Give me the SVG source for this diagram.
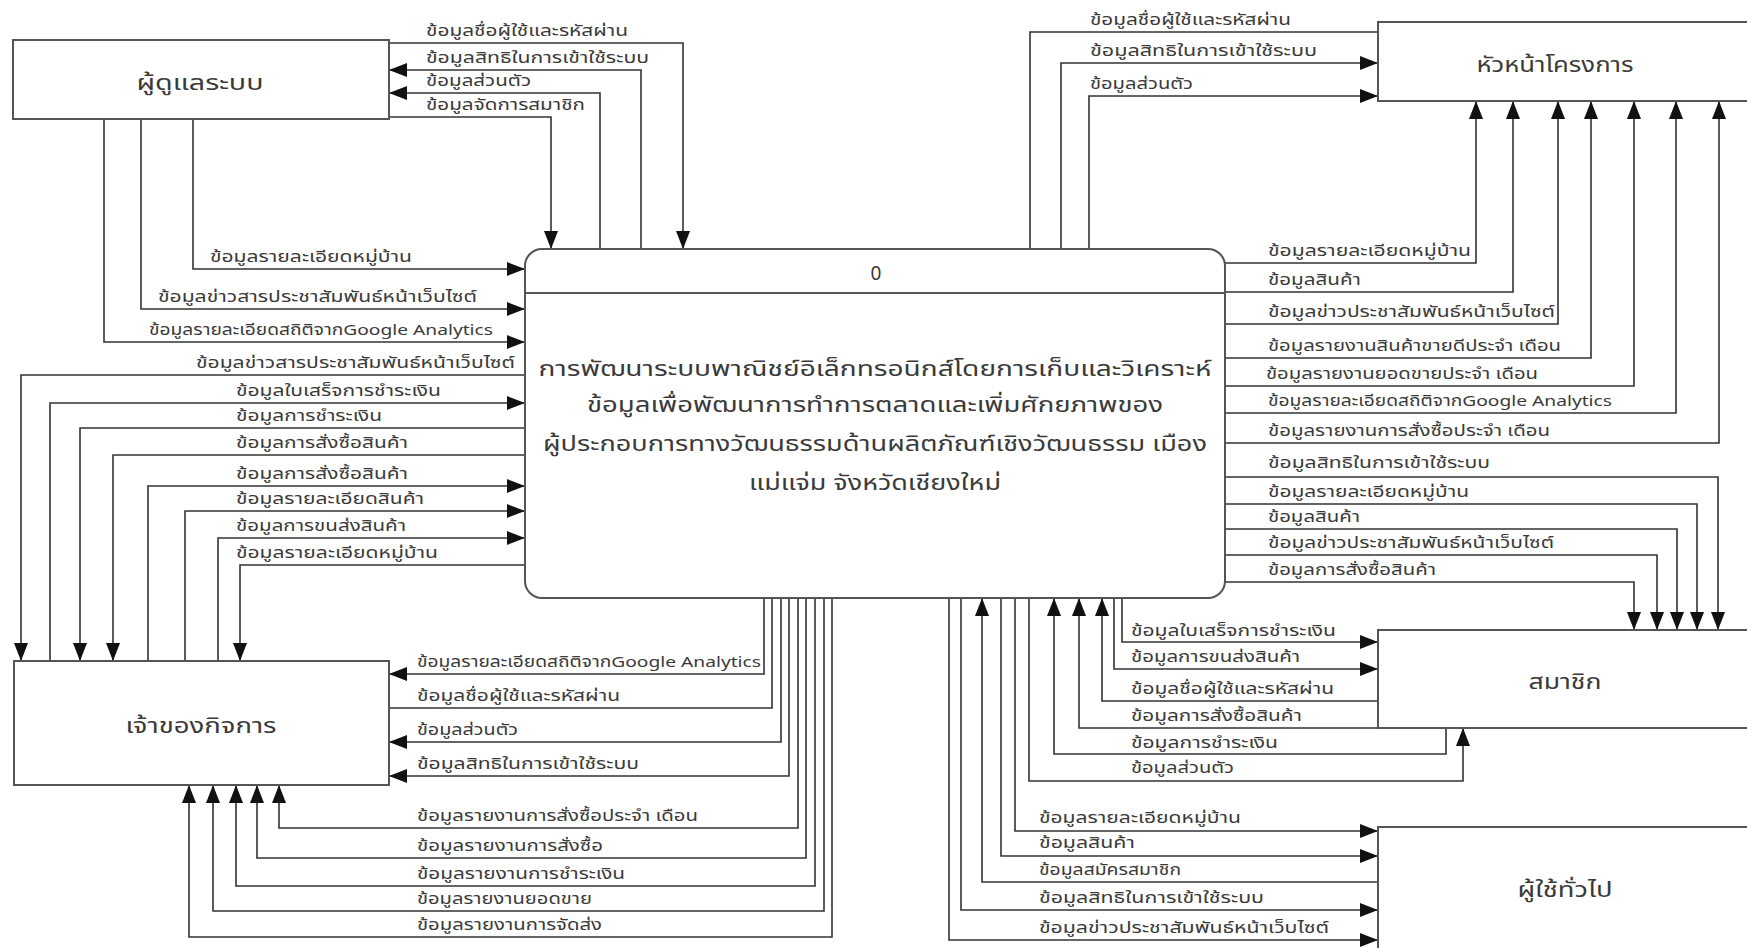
<svg xmlns="http://www.w3.org/2000/svg" width="1747" height="948" viewBox="0 0 1747 948">
<style>
.box{fill:#fff;stroke:#555;stroke-width:2}
.c{fill:none;stroke:#333;stroke-width:1.6}
.a{marker-end:url(#ah)}
text{font-family:"Noto Sans Thai","Noto Sans","Liberation Sans",sans-serif;fill:#3a3a3a}
.l{font-size:15px}
.n{font-size:21px;text-anchor:middle}
.t{font-size:21px;text-anchor:middle}
</style>
<defs>
<marker id="ah" markerWidth="18" markerHeight="14" refX="18" refY="7" orient="auto" markerUnits="userSpaceOnUse"><path d="M0,0 L18,7 L0,14 z" fill="#111"/></marker>
</defs>
<rect width="1747" height="948" fill="#fff"/>

<g id="connectors">
<path class="c a" d="M389,43 H683 V249"/>
<path class="c a" d="M641,249 V70 H389"/>
<path class="c a" d="M600,249 V93 H389"/>
<path class="c a" d="M389,117 H551 V249"/>
<path class="c a" d="M193,119 V269 H525"/>
<path class="c a" d="M141,119 V309 H525"/>
<path class="c a" d="M104,119 V342 H525"/>
<path class="c a" d="M525,375 H21 V661"/>
<path class="c a" d="M50,661 V403 H525"/>
<path class="c a" d="M525,428 H80 V661"/>
<path class="c a" d="M525,455 H113 V661"/>
<path class="c a" d="M148,661 V486 H525"/>
<path class="c a" d="M185,661 V511 H525"/>
<path class="c a" d="M218,661 V538 H525"/>
<path class="c a" d="M525,565 H240 V661"/>
<path class="c a" d="M764,598 V674 H389"/>
<path class="c" d="M772,598 V708 H389"/>
<path class="c a" d="M781,598 V742 H389"/>
<path class="c a" d="M789,598 V776 H389"/>
<path class="c a" d="M798,598 V828 H279 V785"/>
<path class="c a" d="M806,598 V858 H257 V785"/>
<path class="c a" d="M815,598 V886 H236 V785"/>
<path class="c a" d="M824,598 V911 H213 V785"/>
<path class="c a" d="M832,598 V937 H189 V785"/>
<path class="c" d="M1030,249 V32 H1378"/>
<path class="c a" d="M1061,249 V63 H1378"/>
<path class="c a" d="M1089,249 V96 H1378"/>
<path class="c a" d="M1225,263 H1476 V101"/>
<path class="c a" d="M1225,292 H1513 V101"/>
<path class="c a" d="M1225,324 H1558 V101"/>
<path class="c a" d="M1225,358 H1591 V101"/>
<path class="c a" d="M1225,386 H1634 V101"/>
<path class="c a" d="M1225,413 H1676 V101"/>
<path class="c a" d="M1225,443 H1719 V101"/>
<path class="c a" d="M1225,477 H1718 V630"/>
<path class="c a" d="M1225,504 H1697 V630"/>
<path class="c a" d="M1225,529 H1677 V630"/>
<path class="c a" d="M1225,555 H1657 V630"/>
<path class="c a" d="M1225,582 H1634 V630"/>
<path class="c a" d="M1122,598 V642 H1378"/>
<path class="c a" d="M1114,598 V669 H1378"/>
<path class="c a" d="M1378,701 H1102 V598"/>
<path class="c a" d="M1378,728 H1079 V598"/>
<path class="c a" d="M1446,728 V754 H1054 V598"/>
<path class="c a" d="M1029,598 V781 H1463 V728"/>
<path class="c a" d="M1015,598 V831 H1378"/>
<path class="c a" d="M1001,598 V856 H1378"/>
<path class="c a" d="M1378,882 H982 V598"/>
<path class="c a" d="M961,598 V910 H1378"/>
<path class="c a" d="M949,598 V940 H1378"/>
</g>

<g id="labels">
<text class="l" x="426" y="36" textLength="202" lengthAdjust="spacingAndGlyphs">ข้อมูลชื่อผู้ใช้และรหัสผ่าน</text>
<text class="l" x="426" y="63" textLength="223" lengthAdjust="spacingAndGlyphs">ข้อมูลสิทธิในการเข้าใช้ระบบ</text>
<text class="l" x="426" y="86" textLength="105" lengthAdjust="spacingAndGlyphs">ข้อมูลส่วนตัว</text>
<text class="l" x="426" y="110" textLength="159" lengthAdjust="spacingAndGlyphs">ข้อมูลจัดการสมาชิก</text>

<text class="l" x="210" y="262" textLength="202" lengthAdjust="spacingAndGlyphs">ข้อมูลรายละเอียดหมู่บ้าน</text>
<text class="l" x="158" y="302" textLength="319" lengthAdjust="spacingAndGlyphs">ข้อมูลข่าวสารประชาสัมพันธ์หน้าเว็บไซต์</text>
<text class="l" x="149" y="335" textLength="344" lengthAdjust="spacingAndGlyphs">ข้อมูลรายละเอียดสถิติจากGoogle Analytics</text>
<text class="l" x="196" y="368" textLength="319" lengthAdjust="spacingAndGlyphs">ข้อมูลข่าวสารประชาสัมพันธ์หน้าเว็บไซต์</text>
<text class="l" x="236" y="396" textLength="205" lengthAdjust="spacingAndGlyphs">ข้อมูลใบเสร็จการชำระเงิน</text>
<text class="l" x="236" y="421" textLength="146" lengthAdjust="spacingAndGlyphs">ข้อมูลการชำระเงิน</text>
<text class="l" x="236" y="448" textLength="172" lengthAdjust="spacingAndGlyphs">ข้อมูลการสั่งซื้อสินค้า</text>
<text class="l" x="236" y="479" textLength="172" lengthAdjust="spacingAndGlyphs">ข้อมูลการสั่งซื้อสินค้า</text>
<text class="l" x="236" y="504" textLength="188" lengthAdjust="spacingAndGlyphs">ข้อมูลรายละเอียดสินค้า</text>
<text class="l" x="236" y="531" textLength="170" lengthAdjust="spacingAndGlyphs">ข้อมูลการขนส่งสินค้า</text>
<text class="l" x="236" y="558" textLength="202" lengthAdjust="spacingAndGlyphs">ข้อมูลรายละเอียดหมู่บ้าน</text>

<text class="l" x="417" y="667" textLength="344" lengthAdjust="spacingAndGlyphs">ข้อมูลรายละเอียดสถิติจากGoogle Analytics</text>
<text class="l" x="417" y="701" textLength="203" lengthAdjust="spacingAndGlyphs">ข้อมูลชื่อผู้ใช้และรหัสผ่าน</text>
<text class="l" x="417" y="735" textLength="101" lengthAdjust="spacingAndGlyphs">ข้อมูลส่วนตัว</text>
<text class="l" x="417" y="769" textLength="222" lengthAdjust="spacingAndGlyphs">ข้อมูลสิทธิในการเข้าใช้ระบบ</text>
<text class="l" x="417" y="821" textLength="281" lengthAdjust="spacingAndGlyphs">ข้อมูลรายงานการสั่งซื้อประจำ เดือน</text>
<text class="l" x="417" y="851" textLength="186" lengthAdjust="spacingAndGlyphs">ข้อมูลรายงานการสั่งซื้อ</text>
<text class="l" x="417" y="879" textLength="208" lengthAdjust="spacingAndGlyphs">ข้อมูลรายงานการชำระเงิน</text>
<text class="l" x="417" y="904" textLength="175" lengthAdjust="spacingAndGlyphs">ข้อมูลรายงานยอดขาย</text>
<text class="l" x="417" y="930" textLength="185" lengthAdjust="spacingAndGlyphs">ข้อมูลรายงานการจัดส่ง</text>

<text class="l" x="1090" y="25" textLength="201" lengthAdjust="spacingAndGlyphs">ข้อมูลชื่อผู้ใช้และรหัสผ่าน</text>
<text class="l" x="1090" y="56" textLength="227" lengthAdjust="spacingAndGlyphs">ข้อมูลสิทธิในการเข้าใช้ระบบ</text>
<text class="l" x="1090" y="89" textLength="103" lengthAdjust="spacingAndGlyphs">ข้อมูลส่วนตัว</text>

<text class="l" x="1268" y="256" textLength="203" lengthAdjust="spacingAndGlyphs">ข้อมูลรายละเอียดหมู่บ้าน</text>
<text class="l" x="1268" y="285" textLength="93" lengthAdjust="spacingAndGlyphs">ข้อมูลสินค้า</text>
<text class="l" x="1268" y="317" textLength="287" lengthAdjust="spacingAndGlyphs">ข้อมูลข่าวประชาสัมพันธ์หน้าเว็บไซต์</text>
<text class="l" x="1268" y="351" textLength="293" lengthAdjust="spacingAndGlyphs">ข้อมูลรายงานสินค้าขายดีประจำ เดือน</text>
<text class="l" x="1266" y="379" textLength="272" lengthAdjust="spacingAndGlyphs">ข้อมูลรายงานยอดขายประจำ เดือน</text>
<text class="l" x="1268" y="406" textLength="344" lengthAdjust="spacingAndGlyphs">ข้อมูลรายละเอียดสถิติจากGoogle Analytics</text>
<text class="l" x="1268" y="436" textLength="282" lengthAdjust="spacingAndGlyphs">ข้อมูลรายงานการสั่งซื้อประจำ เดือน</text>
<text class="l" x="1268" y="468" textLength="222" lengthAdjust="spacingAndGlyphs">ข้อมูลสิทธิในการเข้าใช้ระบบ</text>
<text class="l" x="1268" y="497" textLength="201" lengthAdjust="spacingAndGlyphs">ข้อมูลรายละเอียดหมู่บ้าน</text>
<text class="l" x="1268" y="522" textLength="92" lengthAdjust="spacingAndGlyphs">ข้อมูลสินค้า</text>
<text class="l" x="1268" y="548" textLength="286" lengthAdjust="spacingAndGlyphs">ข้อมูลข่าวประชาสัมพันธ์หน้าเว็บไซต์</text>
<text class="l" x="1268" y="575" textLength="168" lengthAdjust="spacingAndGlyphs">ข้อมูลการสั่งซื้อสินค้า</text>

<text class="l" x="1131" y="636" textLength="205" lengthAdjust="spacingAndGlyphs">ข้อมูลใบเสร็จการชำระเงิน</text>
<text class="l" x="1131" y="662" textLength="169" lengthAdjust="spacingAndGlyphs">ข้อมูลการขนส่งสินค้า</text>
<text class="l" x="1131" y="694" textLength="203" lengthAdjust="spacingAndGlyphs">ข้อมูลชื่อผู้ใช้และรหัสผ่าน</text>
<text class="l" x="1131" y="721" textLength="171" lengthAdjust="spacingAndGlyphs">ข้อมูลการสั่งซื้อสินค้า</text>
<text class="l" x="1131" y="748" textLength="147" lengthAdjust="spacingAndGlyphs">ข้อมูลการชำระเงิน</text>
<text class="l" x="1131" y="773" textLength="103" lengthAdjust="spacingAndGlyphs">ข้อมูลส่วนตัว</text>

<text class="l" x="1039" y="823" textLength="202" lengthAdjust="spacingAndGlyphs">ข้อมูลรายละเอียดหมู่บ้าน</text>
<text class="l" x="1039" y="848" textLength="96" lengthAdjust="spacingAndGlyphs">ข้อมูลสินค้า</text>
<text class="l" x="1039" y="875" textLength="142" lengthAdjust="spacingAndGlyphs">ข้อมูลสมัครสมาชิก</text>
<text class="l" x="1039" y="903" textLength="225" lengthAdjust="spacingAndGlyphs">ข้อมูลสิทธิในการเข้าใช้ระบบ</text>
<text class="l" x="1039" y="933" textLength="290" lengthAdjust="spacingAndGlyphs">ข้อมูลข่าวประชาสัมพันธ์หน้าเว็บไซต์</text>
</g>

<g id="admin">
<rect class="box" x="13" y="40" width="376" height="79"/>
<text class="n" x="200" y="90" textLength="127" lengthAdjust="spacingAndGlyphs">ผู้ดูแลระบบ</text>
</g>
<g id="owner">
<rect class="box" x="14" y="661" width="375" height="124"/>
<text class="n" x="201" y="733" textLength="151" lengthAdjust="spacingAndGlyphs">เจ้าของกิจการ</text>
</g>
<g id="head">
<rect class="box" x="1378" y="22" width="390" height="79"/>
<text class="n" x="1555" y="72" textLength="157" lengthAdjust="spacingAndGlyphs">หัวหน้าโครงการ</text>
</g>
<g id="member">
<rect class="box" x="1378" y="630" width="390" height="98"/>
<text class="n" x="1565" y="689" textLength="73" lengthAdjust="spacingAndGlyphs">สมาชิก</text>
</g>
<g id="general">
<rect class="box" x="1378" y="827" width="390" height="140"/>
<text class="n" x="1565" y="897" textLength="95" lengthAdjust="spacingAndGlyphs">ผู้ใช้ทั่วไป</text>
</g>
<g id="process">
<rect class="box" x="525" y="249" width="700" height="349" rx="17" ry="17"/>
<line x1="525" y1="293" x2="1225" y2="293" stroke="#555" stroke-width="2"/>
<text class="t" x="876" y="280" style="font-size:19px">0</text>
<text class="t" x="875" y="376" textLength="673" lengthAdjust="spacingAndGlyphs">การพัฒนาระบบพาณิชย์อิเล็กทรอนิกส์โดยการเก็บและวิเคราะห์</text>
<text class="t" x="875" y="412" textLength="576" lengthAdjust="spacingAndGlyphs">ข้อมูลเพื่อพัฒนาการทำการตลาดและเพิ่มศักยภาพของ</text>
<text class="t" x="875" y="451" textLength="664" lengthAdjust="spacingAndGlyphs">ผู้ประกอบการทางวัฒนธรรมด้านผลิตภัณฑ์เชิงวัฒนธรรม เมือง</text>
<text class="t" x="875" y="490" textLength="252" lengthAdjust="spacingAndGlyphs">แม่แจ่ม จังหวัดเชียงใหม่</text>
</g>
</svg>
